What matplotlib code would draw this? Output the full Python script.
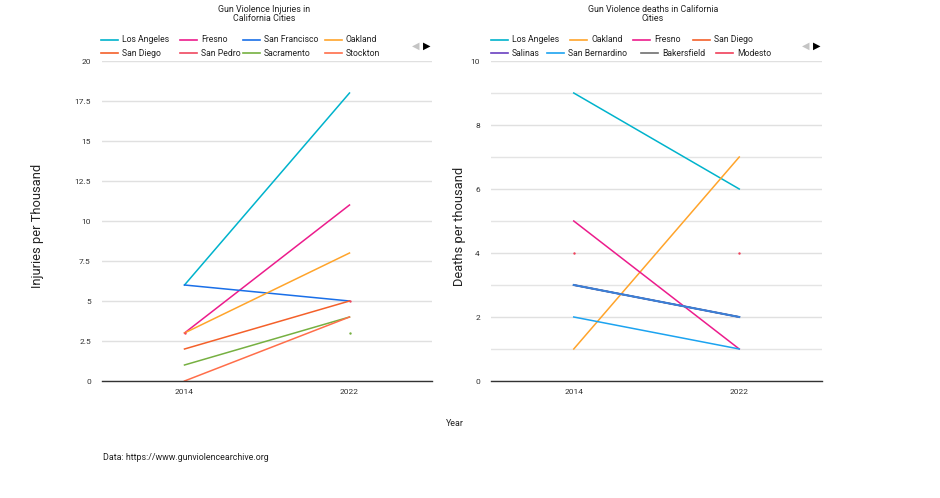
import matplotlib
matplotlib.use("Agg")
import matplotlib.pyplot as plt
from matplotlib.lines import Line2D
from matplotlib.ticker import MultipleLocator, FuncFormatter

plt.rcParams['font.family'] = ['Roboto', 'DejaVu Sans']

years = [2014, 2022]

# Injuries per thousand
inj_cities = ["Los Angeles", "Fresno", "San Francisco", "Oakland",
              "San Diego", "San Pedro", "Sacramento", "Stockton"]
inj_values = {
    "Los Angeles": [6, 18],
    "Fresno": [3, 11],
    "San Francisco": [6, 5],
    "Oakland": [3, 8],
    "San Diego": [2, 5],
    "San Pedro": [3, 5],
    "Sacramento": [1, 4],
    "Stockton": [0, 4],
}
inj_colors = {
    "Los Angeles": "#00b3cc", "Fresno": "#ec1c8c", "San Francisco": "#1a6fe8",
    "Oakland": "#ffa42b", "San Diego": "#f4602a", "San Pedro": "#ef4860",
    "Sacramento": "#76b041", "Stockton": "#ff6e4a",
}
inj_point_only = {"San Pedro"}
inj_extra_points = [(2022, 3, "#76b041")]

# Deaths per thousand
dth_cities = ["Los Angeles", "Oakland", "Fresno", "San Diego",
              "Salinas", "San Bernardino", "Bakersfield", "Modesto"]
dth_values = {
    "Los Angeles": [9, 6],
    "Oakland": [1, 7],
    "Fresno": [5, 1],
    "San Diego": [3, 2],
    "Salinas": [3, 2],
    "San Bernardino": [2, 1],
    "Bakersfield": [3, 2],
    "Modesto": [4, 4],
}
dth_colors = {
    "Los Angeles": "#00b3cc", "Oakland": "#ffa42b", "Fresno": "#ec1c8c",
    "San Diego": "#f4602a", "Salinas": "#6a3fc0", "San Bernardino": "#1ca3f0",
    "Bakersfield": "#6f6f6f", "Modesto": "#f0405a",
}
dth_point_only = {"Modesto"}
dth_hidden_line = [3, 2]  # series on second legend page, drawn on top
dth_hidden_color = "#3a80d8"

W, H = 940, 498
fig = plt.figure(figsize=(W/100, H/100), dpi=100)
axL = fig.add_axes([102/W, 117/H, 330/W, 320/H])
axR = fig.add_axes([491/W, 117/H, 331/W, 320/H])


def style(ax, ymax, major, minor=None):
    ax.set_xlim(2010, 2026)
    ax.set_ylim(0, ymax)
    ax.set_xticks(years)
    ax.yaxis.set_major_locator(MultipleLocator(major))
    ax.yaxis.set_major_formatter(FuncFormatter(lambda v, p: f"{v:g}"))
    if minor:
        ax.yaxis.set_minor_locator(MultipleLocator(minor))
        ax.grid(True, axis='y', which='minor', color='#e4e4e4', lw=1.0, zorder=0)
    ax.grid(True, axis='y', which='major', color='#e0e0e0', lw=1.0, zorder=0)
    for s in ['top', 'right', 'left']:
        ax.spines[s].set_visible(False)
    ax.spines['bottom'].set_color('#333333')
    ax.spines['bottom'].set_linewidth(1.0)
    ax.spines['bottom'].set_zorder(5)
    ax.tick_params(axis='y', which='both', length=0,
                   labelsize=6, labelcolor='#333333', pad=8)
    ax.tick_params(axis='x', length=0, labelsize=6, labelcolor='#333333', pad=6)
    ax.set_axisbelow(True)


style(axL, 20, 2.5)
style(axR, 10, 2, 1)

for c in inj_cities:
    v = inj_values[c]
    if c in inj_point_only:
        axL.scatter(years, v, s=3, color=inj_colors[c], zorder=4, lw=0)
    else:
        axL.plot(years, v, color=inj_colors[c], lw=1.1, zorder=3)
for x, y, col in inj_extra_points:
    axL.scatter([x], [y], s=3, color=col, zorder=4, lw=0)

for c in dth_cities:
    v = dth_values[c]
    if c in dth_point_only:
        axR.scatter(years, v, s=3, color=dth_colors[c], zorder=4, lw=0)
    else:
        axR.plot(years, v, color=dth_colors[c], lw=1.1, zorder=3)
axR.plot(years, dth_hidden_line, color=dth_hidden_color, lw=1.5, zorder=3)


def legend(cities, colors, xs_rows, ys):
    idx = 0
    for row, y in zip(xs_rows, ys):
        for x in row:
            c = cities[idx]
            idx += 1
            fig.add_artist(Line2D([x/W, (x + 17)/W], [1 - y/H, 1 - y/H],
                                  color=colors[c], lw=1.2,
                                  transform=fig.transFigure))
            fig.text((x + 21)/W, 1 - y/H, c, ha='left', va='center',
                     fontsize=6.2, color='#222222')


legend(inj_cities, inj_colors, [[101, 180, 243, 325], [101, 180, 243, 325]], [40, 53])
legend(dth_cities, dth_colors, [[491, 570, 633, 693], [491, 547, 641, 716]], [40, 53])

fig.text(264/W, 1 - 14/H, "Gun Violence Injuries in\nCalifornia Cities",
         ha='center', va='center', fontsize=6.4, color='#222222', linespacing=1.1)
fig.text(653/W, 1 - 14/H, "Gun Violence deaths in California\nCities",
         ha='center', va='center', fontsize=6.4, color='#222222', linespacing=1.1)

for xa, xb in ((416, 427), (806, 817)):
    fig.text(xa/W, 1 - 46/H, "◀", ha='center', va='center', fontsize=7,
             color='#c4c4c4', family=['DejaVu Sans'])
    fig.text(xb/W, 1 - 46/H, "▶", ha='center', va='center', fontsize=7,
             color='#000000', family=['DejaVu Sans'])

fig.text(38/W, 1 - 226/H, "Injuries per Thousand", rotation=90,
         ha='center', va='center', fontsize=9.3, color='#222222')
fig.text(460/W, 1 - 226/H, "Deaths per thousand", rotation=90,
         ha='center', va='center', fontsize=9.3, color='#222222')
fig.text(455/W, 1 - 423/H, "Year", ha='center', va='center',
         fontsize=6.4, color='#222222')
fig.text(103/W, 1 - 457/H, "Data: https://www.gunviolencearchive.org",
         ha='left', va='center', fontsize=6.4, color='#222222')

fig.savefig("out.png", dpi=100, facecolor='white')
